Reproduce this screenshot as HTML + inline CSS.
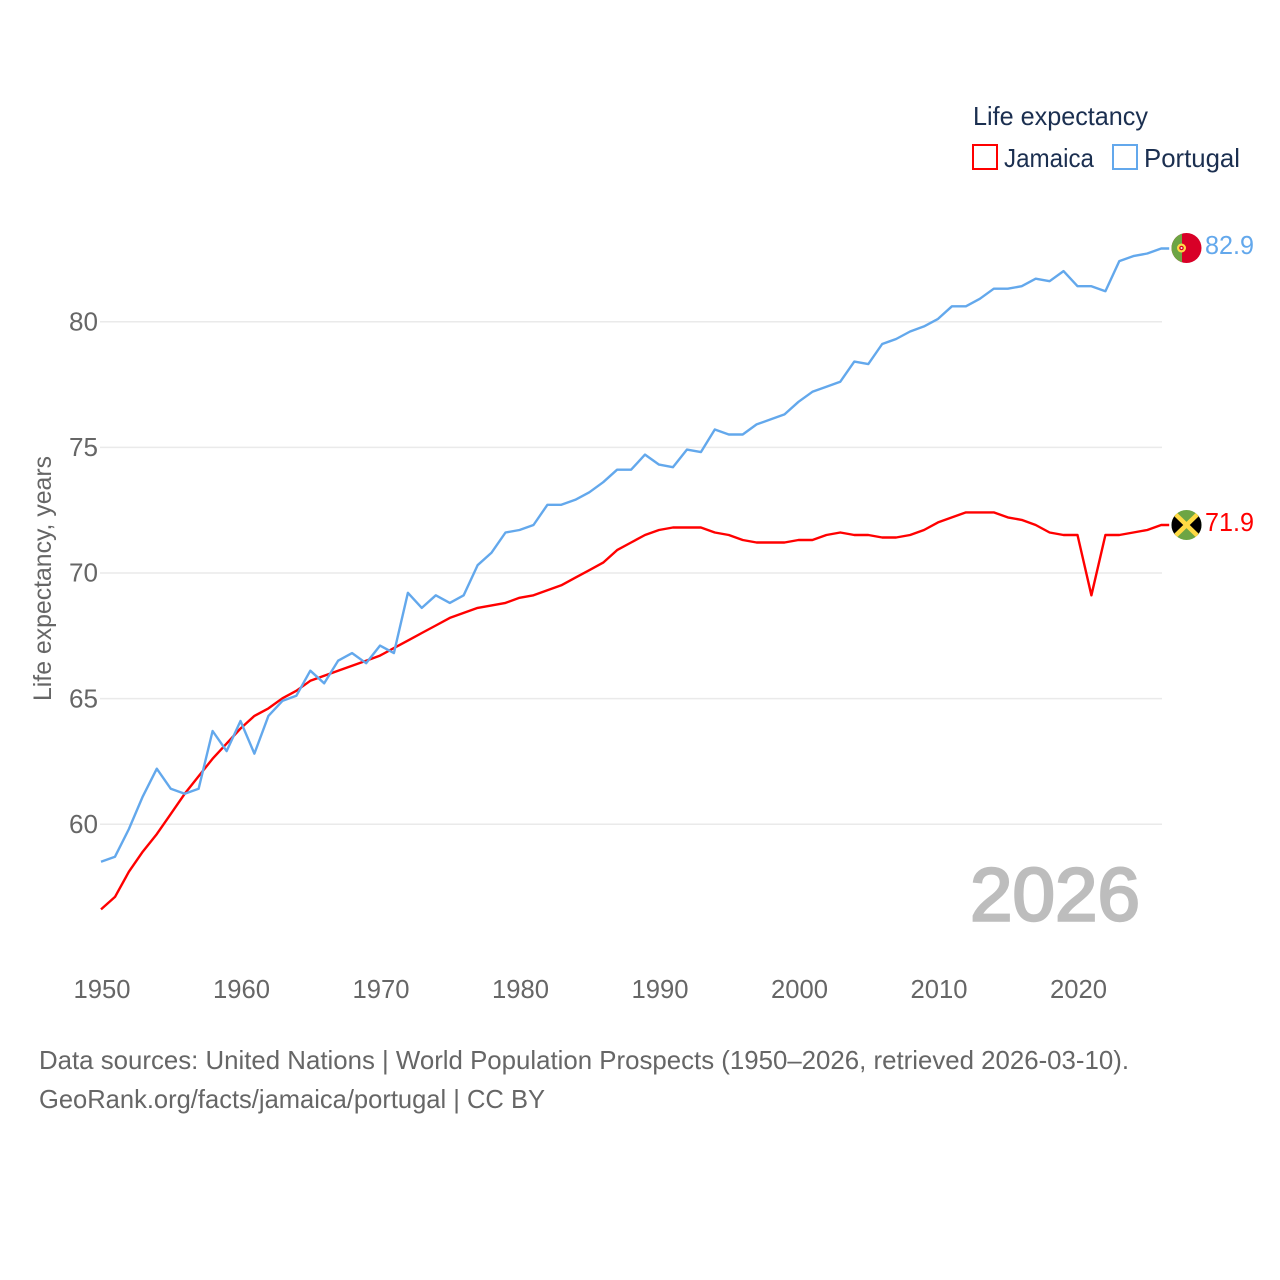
<!DOCTYPE html>
<html lang="en">
<head>
<meta charset="utf-8">
<title>Life expectancy: Jamaica and Portugal</title>
<style>
html,body{margin:0;padding:0;background:#fff;width:1280px;height:1280px;overflow:hidden}
svg{display:block;font-family:"Liberation Sans",sans-serif}
</style>
</head>
<body>
<svg id="chart" xmlns="http://www.w3.org/2000/svg" width="1280" height="1280" viewBox="0 0 1280 1280">
  <rect width="1280" height="1280" fill="#fff"/>
  <g id="grid" transform="translate(0,0.3)"></g>
  <g id="yticks"></g>
  <g id="xticks"></g>
  <text transform="translate(51,578.5) rotate(-90)" text-anchor="middle" font-size="25" fill="#666" textLength="245" lengthAdjust="spacingAndGlyphs">Life expectancy, years</text>
  <text x="970" y="920.7" font-size="75" font-weight="400" fill="#bdbdbd" stroke="#bdbdbd" stroke-width="2.4" textLength="170" lengthAdjust="spacingAndGlyphs">2026</text>
  <g id="series"></g>
  <defs>
    <clipPath id="clip-pt"><circle cx="1186.5" cy="248" r="15"/></clipPath>
    <clipPath id="clip-jm"><circle cx="1186.5" cy="525" r="15"/></clipPath>
  </defs>
  <g clip-path="url(#clip-pt)">
    <rect x="1171" y="233" width="31" height="30" fill="#d80027"/>
    <rect x="1171" y="233" width="11" height="30" fill="#6da544"/>
    <circle cx="1181.5" cy="248" r="4.5" fill="#ffda44"/>
    <circle cx="1181.5" cy="248" r="2.3" fill="#d80027"/>
    <circle cx="1181.5" cy="248" r="1" fill="#f0f0f0"/>
  </g>
  <g clip-path="url(#clip-jm)">
    <rect x="1171" y="510" width="31" height="30" fill="#6da544"/>
    <path d="M1171 510L1186.5 525L1171 540ZM1202 510L1186.5 525L1202 540Z" fill="#000"/>
    <path d="M1171 510L1202 540M1202 510L1171 540" stroke="#ffda44" stroke-width="4.5" fill="none"/>
  </g>
  <text x="1205" y="254" font-size="26" fill="#63a8ec" textLength="49" lengthAdjust="spacingAndGlyphs">82.9</text>
  <text x="1205" y="531" font-size="26" fill="#ff0000" textLength="49" lengthAdjust="spacingAndGlyphs">71.9</text>
  <g>
    <text x="973" y="125" font-size="26" fill="#1b2f50" textLength="175" lengthAdjust="spacingAndGlyphs">Life expectancy</text>
    <rect x="973" y="145" width="24" height="24" fill="#fff" stroke="#ff0000" stroke-width="2"/>
    <text x="1004" y="167" font-size="26" fill="#1b2f50" textLength="90" lengthAdjust="spacingAndGlyphs">Jamaica</text>
    <rect x="1113" y="145" width="24" height="24" fill="#fff" stroke="#63a8ec" stroke-width="2"/>
    <text x="1144" y="167" font-size="26" fill="#1b2f50" textLength="96" lengthAdjust="spacingAndGlyphs">Portugal</text>
  </g>
  <text x="39" y="1069" font-size="26" fill="#666" textLength="1090" lengthAdjust="spacingAndGlyphs">Data sources: United Nations | World Population Prospects (1950–2026, retrieved 2026-03-10).</text>
  <text x="39" y="1108" font-size="26" fill="#666" textLength="506" lengthAdjust="spacingAndGlyphs">GeoRank.org/facts/jamaica/portugal | CC BY</text>
</svg>
<script>
const startYear = 1950;
const jamaicaValues = [56.6,57.1,58.1,58.9,59.6,60.4,61.2,61.9,62.6,63.2,63.8,64.3,64.6,65.0,65.3,65.7,65.9,66.1,66.3,66.5,66.7,67.0,67.3,67.6,67.9,68.2,68.4,68.6,68.7,68.8,69.0,69.1,69.3,69.5,69.8,70.1,70.4,70.9,71.2,71.5,71.7,71.8,71.8,71.8,71.6,71.5,71.3,71.2,71.2,71.2,71.3,71.3,71.5,71.6,71.5,71.5,71.4,71.4,71.5,71.7,72.0,72.2,72.4,72.4,72.4,72.2,72.1,71.9,71.6,71.5,71.5,69.1,71.5,71.5,71.6,71.7,71.9];
const portugalValues = [58.5,58.7,59.8,61.1,62.2,61.4,61.2,61.4,63.7,62.9,64.1,62.8,64.3,64.9,65.1,66.1,65.6,66.5,66.8,66.4,67.1,66.8,69.2,68.6,69.1,68.8,69.1,70.3,70.8,71.6,71.7,71.9,72.7,72.7,72.9,73.2,73.6,74.1,74.1,74.7,74.3,74.2,74.9,74.8,75.7,75.5,75.5,75.9,76.1,76.3,76.8,77.2,77.4,77.6,78.4,78.3,79.1,79.3,79.6,79.8,80.1,80.6,80.6,80.9,81.3,81.3,81.4,81.7,81.6,82.0,81.4,81.4,81.2,82.4,82.6,82.7,82.9];
const yTickValues = [60,65,70,75,80];
const xTickValues = [1950,1960,1970,1980,1990,2000,2010,2020];

const NS = 'http://www.w3.org/2000/svg';
function xScale(year){ return 101 + (year - 1950) * 13.95; }
function yScale(v){ return 321.4 + (80 - v) * 25.13; }
function make(tag, attrs, parent){
  const el = document.createElementNS(NS, tag);
  for (const k in attrs) el.setAttribute(k, attrs[k]);
  parent.appendChild(el);
  return el;
}

const grid = document.getElementById('grid');
const yticks = document.getElementById('yticks');
const xticks = document.getElementById('xticks');
const series = document.getElementById('series');

yTickValues.forEach(function(v){
  const line = make('line', {x1:100, x2:1162, y1:yScale(v), y2:yScale(v), stroke:'#eaeaea', 'stroke-width':1.5}, grid);
  
  
  const t = make('text', {x:98, y:yScale(v)+9, 'text-anchor':'end', 'font-size':26, fill:'#666'}, yticks);
  t.textContent = String(v);
  t.setAttribute('textLength', '29');
  t.setAttribute('lengthAdjust', 'spacingAndGlyphs');
  
  
});

xTickValues.forEach(function(y){
  const t = make('text', {x:xScale(y)+1, y:998, 'text-anchor':'middle', 'font-size':26, fill:'#666'}, xticks);
  t.textContent = String(y);
  t.setAttribute('textLength', '57');
  t.setAttribute('lengthAdjust', 'spacingAndGlyphs');
  
  
});

function drawLine(values, color){
  const pts = values.map(function(v, i){ return xScale(startYear + i).toFixed(1) + ',' + yScale(v).toFixed(1); });
  const last = values[values.length - 1];
  pts.push((xScale(startYear + values.length - 1) + 8).toFixed(1) + ',' + yScale(last).toFixed(1));
  return make('polyline', {points:pts.join(' '), fill:'none', stroke:color, 'stroke-width':2.4, 'stroke-linejoin':'round'}, series);
}
const jamaicaLine = drawLine(jamaicaValues, '#ff0000');


const portugalLine = drawLine(portugalValues, '#63a8ec');


</script>
</body>
</html>
